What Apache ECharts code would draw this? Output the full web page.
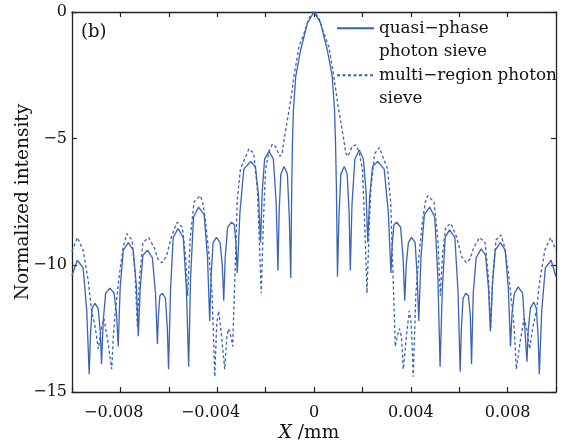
<!DOCTYPE html>
<html><head><meta charset="utf-8">
<script src="https://cdn.jsdelivr.net/npm/echarts@6/dist/echarts.min.js"></script>
<style>html,body{margin:0;padding:0;background:#fff}#c{width:573px;height:444px}</style>
</head><body><div id="c"></div>
<script>
// X tick values (mm) and their labels
const xTickValues = [-0.008, -0.004, 0, 0.004, 0.008];
const xTickLabels = ['\u22120.008', '\u22120.004', '0', '0.004', '0.008'];
const yTickValues = [-15, -10, -5, 0];
const yTickLabels = ['\u221215', '\u221210', '\u22125', '0'];
const seriesNames = ['quasi\u2212phase photon sieve', 'multi\u2212region photon sieve'];
const legendLines = [['quasi\u2212phase', 'photon sieve'], ['multi\u2212region photon', 'sieve']];

// quasi-phase photon sieve: [X (mm), normalized intensity]
const quasiPhase = [
 [-10.0e-3,-10.4],[-9.78e-3,-9.8],[-9.54e-3,-10.1],[-9.39e-3,-11.8],[-9.29e-3,-14.3],
 [-9.24e-3,-12.8],[-9.17e-3,-11.7],[-9.05e-3,-11.5],[-8.92e-3,-11.7],[-8.83e-3,-12.6],[-8.78e-3,-13.9],
 [-8.71e-3,-12.2],[-8.61e-3,-11.1],[-8.43e-3,-10.9],[-8.26e-3,-11.1],[-8.16e-3,-11.9],[-8.09e-3,-13.2],
 [-8.01e-3,-10.9],[-7.88e-3,-9.4],[-7.67e-3,-9.1],[-7.47e-3,-9.4],[-7.34e-3,-10.8],[-7.26e-3,-12.8],
 [-7.18e-3,-10.9],[-7.07e-3,-9.6],[-6.88e-3,-9.4],[-6.68e-3,-9.7],[-6.55e-3,-11.1],[-6.47e-3,-13.1],
 [-6.43e-3,-12.0],[-6.37e-3,-11.2],[-6.26e-3,-11.1],[-6.14e-3,-11.3],[-6.06e-3,-12.5],[-6.01e-3,-14.1],
 [-5.93e-3,-11.0],[-5.82e-3,-8.9],[-5.62e-3,-8.55],[-5.40e-3,-8.9],[-5.27e-3,-11.0],[-5.18e-3,-14.0],
 [-5.10e-3,-10.5],[-4.98e-3,-8.1],[-4.77e-3,-7.7],[-4.54e-3,-8.0],[-4.40e-3,-9.7],[-4.31e-3,-12.2],
 [-4.25e-3,-10.4],[-4.17e-3,-9.1],[-4.03e-3,-8.9],[-3.88e-3,-9.1],[-3.79e-3,-10.0],[-3.73e-3,-11.4],
 [-3.67e-3,-9.7],[-3.57e-3,-8.5],[-3.41e-3,-8.3],[-3.29e-3,-8.4],[-3.22e-3,-9.2],[-3.17e-3,-10.3],
 [-3.06e-3,-7.9],[-2.90e-3,-6.2],[-2.62e-3,-5.9],[-2.42e-3,-6.1],[-2.29e-3,-7.3],[-2.21e-3,-9.1],
 [-2.14e-3,-7.1],[-2.04e-3,-5.8],[-1.86e-3,-5.5],[-1.68e-3,-5.8],[-1.56e-3,-7.6],[-1.49e-3,-10.2],
 [-1.44e-3,-7.9],[-1.37e-3,-6.4],[-1.24e-3,-6.1],[-1.10e-3,-6.4],[-1.02e-3,-8.1],[-0.96e-3,-10.5],
 [-0.92e-3,-6.9],[-0.89e-3,-5.17],[-0.85e-3,-3.87],[-0.755e-3,-2.55],[-0.55e-3,-1.49],[-0.27e-3,-0.43],[0,0],
 [0.27e-3,-0.43],[0.55e-3,-1.5],[0.755e-3,-2.55],[0.85e-3,-3.9],[0.89e-3,-5.2],[0.925e-3,-6.9],[0.97e-3,-10.45],
 [1.03e-3,-8.1],[1.11e-3,-6.4],[1.25e-3,-6.1],[1.37e-3,-6.4],[1.45e-3,-7.9],[1.50e-3,-10.2],
 [1.57e-3,-7.6],[1.69e-3,-5.8],[1.87e-3,-5.45],[2.04e-3,-5.8],[2.15e-3,-7.1],[2.22e-3,-9.1],
 [2.30e-3,-7.3],[2.42e-3,-6.1],[2.63e-3,-5.9],[2.90e-3,-6.2],[3.07e-3,-7.9],[3.18e-3,-10.3],
 [3.23e-3,-9.2],[3.30e-3,-8.4],[3.42e-3,-8.3],[3.58e-3,-8.5],[3.68e-3,-9.7],[3.75e-3,-11.4],
 [3.81e-3,-10.0],[3.90e-3,-9.1],[4.03e-3,-8.9],[4.18e-3,-9.1],[4.26e-3,-10.4],[4.33e-3,-12.2],
 [4.42e-3,-9.7],[4.56e-3,-8.0],[4.78e-3,-7.7],[4.99e-3,-8.1],[5.12e-3,-10.5],[5.21e-3,-14.0],
 [5.30e-3,-11.0],[5.42e-3,-8.9],[5.60e-3,-8.6],[5.82e-3,-8.9],[5.95e-3,-11.0],[6.04e-3,-14.2],
 [6.09e-3,-12.5],[6.16e-3,-11.3],[6.27e-3,-11.1],[6.38e-3,-11.2],[6.46e-3,-12.0],[6.51e-3,-13.9],
 [6.58e-3,-11.1],[6.70e-3,-9.7],[6.91e-3,-9.35],[7.09e-3,-9.6],[7.21e-3,-10.9],[7.29e-3,-12.6],
 [7.37e-3,-10.8],[7.49e-3,-9.4],[7.70e-3,-9.1],[7.90e-3,-9.4],[8.03e-3,-10.9],[8.12e-3,-13.2],
 [8.18e-3,-11.9],[8.28e-3,-11.1],[8.44e-3,-10.85],[8.62e-3,-11.1],[8.72e-3,-12.6],[8.80e-3,-13.8],
 [8.85e-3,-12.6],[8.94e-3,-11.7],[9.08e-3,-11.45],[9.19e-3,-11.7],[9.26e-3,-12.8],[9.31e-3,-14.3],
 [9.41e-3,-11.8],[9.56e-3,-10.1],[9.80e-3,-9.8],[10.0e-3,-10.45]
];

// multi-region photon sieve: [X (mm), normalized intensity]
const multiRegion = [
 [-10.0e-3,-9.45],[-9.78e-3,-8.9],[-9.54e-3,-9.4],[-9.33e-3,-10.6],[-9.19e-3,-11.8],[-9.05e-3,-12.4],
 [-8.91e-3,-13.3],[-8.81e-3,-12.6],[-8.68e-3,-12.1],[-8.52e-3,-13.0],[-8.36e-3,-14.1],[-8.29e-3,-12.8],
 [-8.22e-3,-11.9],[-8.02e-3,-10.2],[-7.88e-3,-9.26],[-7.73e-3,-8.75],[-7.52e-3,-9.0],[-7.39e-3,-10.4],
 [-7.30e-3,-12.4],[-7.21e-3,-10.5],[-7.07e-3,-9.1],[-6.84e-3,-8.9],[-6.60e-3,-9.3],[-6.45e-3,-9.75],
 [-6.29e-3,-9.9],[-6.10e-3,-9.65],[-5.90e-3,-8.9],[-5.66e-3,-8.3],[-5.44e-3,-8.5],[-5.31e-3,-9.6],
 [-5.22e-3,-11.2],[-5.12e-3,-9.0],[-4.96e-3,-7.5],[-4.70e-3,-7.25],[-4.60e-3,-7.5],[-4.49e-3,-8.2],
 [-4.35e-3,-9.5],[-4.21e-3,-11.1],[-4.10e-3,-14.4],[-4.02e-3,-12.3],[-3.94e-3,-11.8],[-3.84e-3,-12.6],
 [-3.69e-3,-14.1],[-3.60e-3,-12.8],[-3.53e-3,-12.5],[-3.44e-3,-12.8],[-3.36e-3,-13.2],[-3.26e-3,-10.2],
 [-3.17e-3,-7.4],[-3.04e-3,-6.2],[-2.69e-3,-5.4],[-2.49e-3,-5.57],[-2.34e-3,-7.0],[-2.28e-3,-8.5],
 [-2.18e-3,-11.1],[-2.10e-3,-8.5],[-2.00e-3,-6.2],[-1.86e-3,-5.5],[-1.72e-3,-5.22],[-1.59e-3,-5.3],
 [-1.41e-3,-5.7],[-1.31e-3,-5.57],[-1.24e-3,-5.05],[-1.10e-3,-4.26],[-0.96e-3,-3.47],[-0.83e-3,-2.55],
 [-0.62e-3,-1.36],[-0.41e-3,-0.83],[-0.20e-3,-0.22],[0,0],
 [0.20e-3,-0.22],[0.41e-3,-0.85],[0.62e-3,-1.4],[0.83e-3,-2.6],[0.96e-3,-3.5],[1.10e-3,-4.3],
 [1.24e-3,-5.1],[1.31e-3,-5.57],[1.40e-3,-5.7],[1.58e-3,-5.3],[1.72e-3,-5.25],[1.86e-3,-5.5],
 [2.00e-3,-6.2],[2.10e-3,-8.5],[2.19e-3,-11.1],[2.28e-3,-8.5],[2.35e-3,-7.0],[2.50e-3,-5.6],
 [2.70e-3,-5.35],[3.04e-3,-6.2],[3.17e-3,-7.5],[3.26e-3,-10.2],[3.36e-3,-13.2],[3.44e-3,-12.8],
 [3.53e-3,-12.5],[3.61e-3,-12.8],[3.69e-3,-14.1],[3.84e-3,-12.6],[3.94e-3,-11.8],[4.02e-3,-12.3],
 [4.10e-3,-14.4],[4.21e-3,-11.1],[4.35e-3,-9.5],[4.49e-3,-8.2],[4.60e-3,-7.5],[4.70e-3,-7.25],
 [4.96e-3,-7.5],[5.12e-3,-9.0],[5.22e-3,-11.2],[5.31e-3,-9.6],[5.44e-3,-8.5],[5.66e-3,-8.35],
 [5.90e-3,-8.9],[6.10e-3,-9.65],[6.29e-3,-9.9],[6.45e-3,-9.75],[6.60e-3,-9.3],[6.84e-3,-8.9],
 [7.07e-3,-9.1],[7.21e-3,-10.5],[7.30e-3,-12.5],[7.39e-3,-10.4],[7.52e-3,-9.0],[7.73e-3,-8.8],
 [7.88e-3,-9.3],[8.02e-3,-10.2],[8.22e-3,-11.9],[8.29e-3,-12.8],[8.36e-3,-14.1],[8.52e-3,-13.0],
 [8.68e-3,-12.1],[8.81e-3,-12.6],[8.91e-3,-13.3],[9.05e-3,-12.4],[9.19e-3,-11.8],[9.33e-3,-10.6],
 [9.54e-3,-9.4],[9.78e-3,-8.9],[10.0e-3,-9.4]
];

const FONT = 'DejaVu Serif';
const INK = '#111';
const BLUE = '#3a62b6';

// negative labels get a trailing spacer so the digits (not the minus) sit on the tick
function xLabel(v) {
  const i = xTickValues.findIndex(t => Math.abs(t - v) < 1e-9);
  if (i < 0) return '';
  const s = xTickLabels[i];
  return s.charAt(0) === '\u2212' ? s + '{g|\u00a0}' : s;
}
function yLabel(v) {
  const i = yTickValues.findIndex(t => Math.abs(t - v) < 1e-9);
  return i >= 0 ? yTickLabels[i] : '';
}

const axisLine = { show: true, onZero: false, lineStyle: { color: '#222', width: 1.3 } };
const axisTick = { show: true, inside: true, length: 5, lineStyle: { color: '#222', width: 1.2 } };

const option = {
  animation: false,
  backgroundColor: '#fff',
  textStyle: { fontFamily: FONT },
  grid: { left: 72, right: 17, top: 12, bottom: 52, containLabel: false, outerBoundsMode: 'none' },
  title: {
    text: '(b)', left: 81, top: 23, padding: 0,
    textStyle: { fontFamily: FONT, fontSize: 18, fontWeight: 'normal', color: INK }
  },
  legend: {
    orient: 'vertical', left: 336, top: -7, padding: 0,
    itemWidth: 37, itemHeight: 14, itemGap: -23.5,
    data: seriesNames,
    formatter: name => '\n' + legendLines[seriesNames.indexOf(name)].join('\n'),
    textStyle: { fontFamily: FONT, fontSize: 16.8, lineHeight: 23.5, color: INK },
    itemStyle: { opacity: 0, color: 'rgba(0,0,0,0)', borderWidth: 0 },
    selectedMode: false
  },
  xAxis: [{
    type: 'value', min: -0.01, max: 0.01, interval: 0.002, position: 'bottom',
    axisLine, axisTick, splitLine: { show: false },
    axisLabel: {
      show: true, formatter: xLabel, color: INK, fontFamily: FONT, fontSize: 16, margin: 13,
      showMinLabel: true, showMaxLabel: true,
      rich: { g: { width: 13.4, fontSize: 16, fontFamily: FONT } }
    },
    name: '{i|X} /mm{g|\u00a0}', nameLocation: 'middle', nameGap: 32, nameMoveOverlap: false,
    nameTextStyle: {
      fontFamily: FONT, fontSize: 18.5, color: INK,
      rich: {
        i: { fontFamily: FONT, fontSize: 18.5, fontStyle: 'italic', color: INK },
        g: { width: 10, fontSize: 18.5 }
      }
    }
  }, {
    type: 'value', min: -0.01, max: 0.01, interval: 0.002, position: 'top',
    axisLine, axisTick, splitLine: { show: false }, axisLabel: { show: false }
  }],
  yAxis: [{
    type: 'value', min: -15, max: 0, interval: 5, position: 'left',
    axisLine, axisTick, splitLine: { show: false },
    axisLabel: { formatter: yLabel, color: INK, fontFamily: FONT, fontSize: 16, margin: 5 },
    name: 'Normalized intensity', nameLocation: 'middle', nameGap: 39, nameMoveOverlap: false,
    nameTextStyle: { fontFamily: FONT, fontSize: 18.5, color: INK }
  }, {
    type: 'value', min: -15, max: 0, interval: 5, position: 'right',
    axisLine, axisTick, splitLine: { show: false }, axisLabel: { show: false }
  }],
  series: [{
    name: seriesNames[0], type: 'line', data: quasiPhase,
    showSymbol: false, symbol: 'none', clip: true,
    lineStyle: { color: BLUE, width: 1.3 }, itemStyle: { color: BLUE }
  }, {
    name: seriesNames[1], type: 'line', data: multiRegion,
    showSymbol: false, symbol: 'none', clip: true,
    lineStyle: { color: BLUE, width: 1.3, type: [3, 2.5] }, itemStyle: { color: BLUE }
  }]
};

const chart = echarts.init(document.getElementById('c'), null, { renderer: 'canvas' });
chart.setOption(option);
</script></body></html>
